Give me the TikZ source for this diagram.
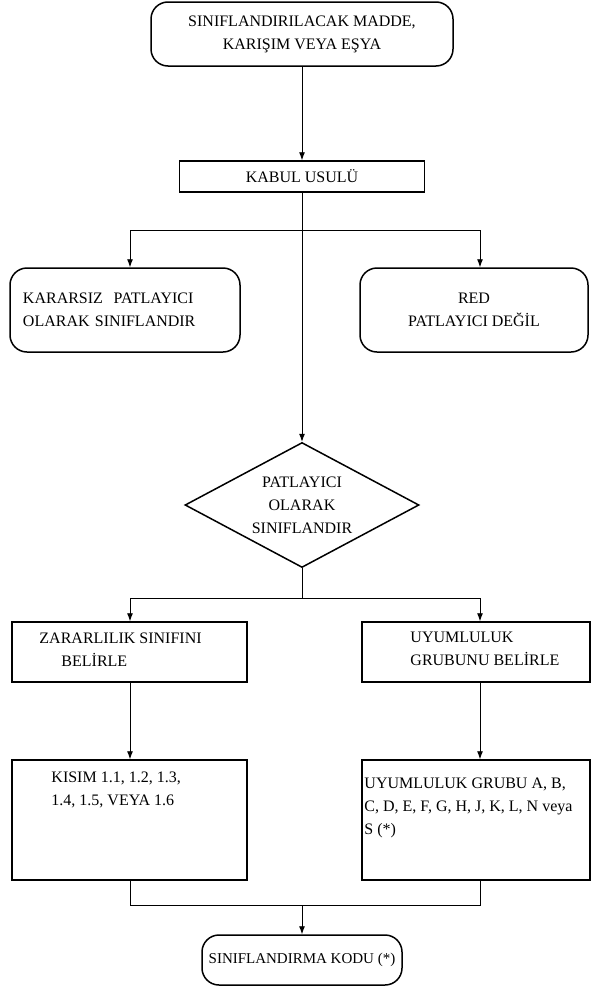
\documentclass[tikz,border=0pt]{standalone}
\usepackage{fontspec}
\setmainfont{Liberation Serif}
\usetikzlibrary{shapes.geometric,arrows.meta}
\begin{document}
\begin{tikzpicture}[x=1pt,y=-1pt,
  txt/.style={font=\fontsize{16}{23}\selectfont},
  box/.style={txt,draw,line width=1.5pt,rectangle,inner sep=0pt},
  stadium/.style={box,rounded corners=17pt},
  decision/.style={txt,draw,line width=1.5pt,diamond,aspect=1.87,inner sep=0pt},
  label/.style={txt,anchor=north west,inner sep=0pt,align=left},
  link/.style={line width=0.9pt},
  arr/.style={link,-{Latex[length=8pt,width=6pt]}}
]
\useasboundingbox (0,0) rectangle (592,1001);
\fill[white] (0,0) rectangle (592,1001);

% boxes, top to bottom
\node[stadium,minimum width=302pt,minimum height=64pt,align=center] (src) at (302,34)
  {SINIFLANDIRILACAK MADDE,\\KARIŞIM VEYA EŞYA};
\node[box,minimum width=245pt,minimum height=31pt] (kabul) at (302,176.5) {KABUL USULÜ};
\node[stadium,minimum width=230pt,minimum height=84pt,align=left,text width=204pt] (unstable) at (125,310)
  {KARARSIZ~~PATLAYICI\\OLARAK SINIFLANDIR};
\node[stadium,minimum width=228pt,minimum height=84pt,align=center] (reject) at (474,310)
  {RED\\PATLAYICI DEĞİL};
\node[decision,minimum width=234pt,minimum height=125pt,align=center] (expl) at (302,505)
  {PATLAYICI\\OLARAK\\SINIFLANDIR};
\node[box,minimum width=235pt,minimum height=60pt] (hazard) at (129.5,652) {};
\node[box,minimum width=228pt,minimum height=60pt] (compat) at (476,652) {};
\node[box,minimum width=235pt,minimum height=120pt] (division) at (129.5,820) {};
\node[box,minimum width=228pt,minimum height=120pt] (group) at (476,820) {};
\node[stadium,minimum width=200pt,minimum height=50pt,font=\fontsize{15}{20}\selectfont] (code) at (302,960)
  {SINIFLANDIRMA KODU (*)};

% texts set inside the rectangles
\node[label] (hazardtxt) at ([xshift=28pt,yshift=-11pt]hazard.north west)
  {ZARARLILIK SINIFINI\\\hspace*{22pt}BELİRLE};
\node[label] (compattxt) at ([xshift=49pt,yshift=-11pt]compat.north west)
  {UYUMLULUK\\GRUBUNU BELİRLE};
\node[label] (divisiontxt) at ([xshift=40pt,yshift=-12pt]division.north west)
  {KISIM 1.1, 1.2, 1.3,\\1.4, 1.5, VEYA 1.6};
\node[label] (grouptxt) at ([xshift=3pt,yshift=-18pt]group.north west)
  {UYUMLULUK GRUBU A, B,\\C, D, E, F, G, H, J, K, L, N veya\\S (*)};

% junction points
\coordinate (s1l) at (130,230);
\coordinate (s1r) at (480,230);
\coordinate (s2) at (302,598);
\coordinate (s2l) at (130,598);
\coordinate (s2r) at (480,598);
\coordinate (m3l) at (130,905);
\coordinate (m3r) at (480,905);
\coordinate (m3) at (302,905);

% connectors
\draw[arr] (src.south) -- (kabul.north);
\draw[arr] (kabul.south) -- (expl.north);
\draw[link] (s1l) -- (s1r);
\draw[arr] (s1l) -- (s1l |- unstable.north);
\draw[arr] (s1r) -- (s1r |- reject.north);
\draw[link] (expl.south) -- (s2);
\draw[link] (s2l) -- (s2r);
\draw[arr] (s2l) -- (s2l |- hazard.north);
\draw[arr] (s2r) -- (s2r |- compat.north);
\draw[arr] (s2l |- hazard.south) -- (s2l |- division.north);
\draw[arr] (s2r |- compat.south) -- (s2r |- group.north);
\draw[link] (s2l |- division.south) -- (m3l) -- (m3r) -- (s2r |- group.south);
\draw[arr] (m3) -- (code.north);
\end{tikzpicture}
\end{document}
